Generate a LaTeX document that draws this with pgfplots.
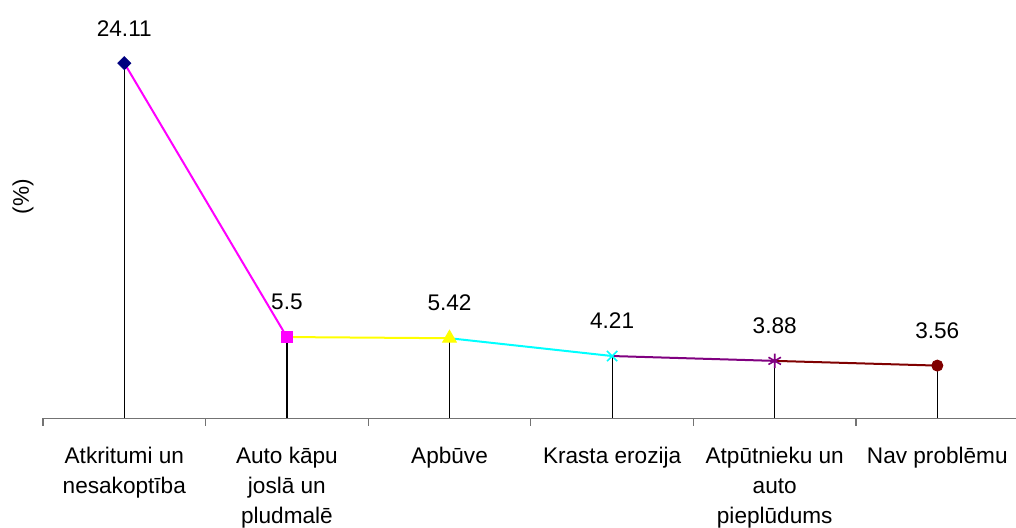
\documentclass[border=0pt]{standalone}
\usepackage{fontspec}
\setmainfont{Liberation Sans}
\usepackage{pgfplots}
\pgfplotsset{compat=1.18}

\definecolor{cNavy}{RGB}{0,0,128}
\definecolor{cMag}{RGB}{255,0,255}
\definecolor{cYel}{RGB}{255,255,0}
\definecolor{cCyan}{RGB}{0,255,255}
\definecolor{cPurp}{RGB}{128,0,128}
\definecolor{cDRed}{RGB}{128,0,0}

\begin{document}
\begin{tikzpicture}
\begin{axis}[
  scale only axis,
  width=486.5pt, height=209pt,
  xmin=-0.5, xmax=5.484, ymin=0, ymax=28.4,
  clip=false,
  axis x line=bottom, axis line style={-, draw=black!55},
  axis y line=none,
  xtick={0,...,5},
  xticklabels={Atkritumi un\\nesakoptība, Auto kāpu\\joslā un\\pludmalē, Apbūve, Krasta erozija, Atpūtnieku un\\auto\\pieplūdums, Nav problēmu},
  major tick length=0pt,
  minor xtick={-0.5,0.5,...,4.5},
  minor tick length=4pt,
  tick align=outside,
  minor tick style={draw=black!55, line width=0.6pt},
  xticklabel style={align=center, anchor=north, yshift=-11pt, font=\fontsize{11.3}{15}\selectfont},
  ytick=\empty,
  every node near coord/.append style={font=\fontsize{11.3}{13}\selectfont, anchor=center, yshift=17.5pt},
]
% drop lines
\addplot[ycomb, black, line width=0.6pt] coordinates {(0,24.11) (1,5.5) (2,5.42) (3,4.21) (4,3.88) (5,3.56)};
% coloured segments
\addplot[cMag, line width=1pt, no marks] coordinates {(0,24.11) (1,5.5)};
\addplot[cYel, line width=1pt, no marks] coordinates {(1,5.5) (2,5.42)};
\addplot[cCyan, line width=1pt, no marks] coordinates {(2,5.42) (3,4.21)};
\addplot[cPurp, line width=1pt, no marks] coordinates {(3,4.21) (4,3.88)};
\addplot[cDRed, line width=1pt, no marks] coordinates {(4,3.88) (5,3.56)};
% markers with labels
\addplot[only marks, mark=square*, mark size=2.3pt, mark options={rotate=45}, cNavy, point meta=explicit symbolic, nodes near coords, every node near coord/.append style={black}] coordinates {(0,24.11) [24.11]};
\addplot[only marks, mark=square*, mark size=2.9pt, cMag, point meta=explicit symbolic, nodes near coords, every node near coord/.append style={black}] coordinates {(1,5.5) [5.5]};
\addplot[only marks, mark=triangle*, mark size=4pt, cYel, point meta=explicit symbolic, nodes near coords, every node near coord/.append style={black}] coordinates {(2,5.42) [5.42]};
\addplot[only marks, mark=x, mark size=3.6pt, line width=0.8pt, cCyan, point meta=explicit symbolic, nodes near coords, every node near coord/.append style={black}] coordinates {(3,4.21) [4.21]};
\addplot[only marks, mark=asterisk, mark size=3.6pt, line width=0.8pt, cPurp, point meta=explicit symbolic, nodes near coords, every node near coord/.append style={black}] coordinates {(4,3.88) [3.88]};
\addplot[only marks, mark=*, mark size=2.8pt, cDRed, point meta=explicit symbolic, nodes near coords, every node near coord/.append style={black}] coordinates {(5,3.56) [3.56]};
\node[rotate=90, font=\fontsize{11.3}{13}\selectfont] at ([xshift=-10pt]rel axis cs:0,0.529) {(\%)};
\end{axis}
\pgfresetboundingbox
\path (-21.5pt,-55pt) rectangle (486.5pt,209pt);
\end{tikzpicture}
\end{document}
